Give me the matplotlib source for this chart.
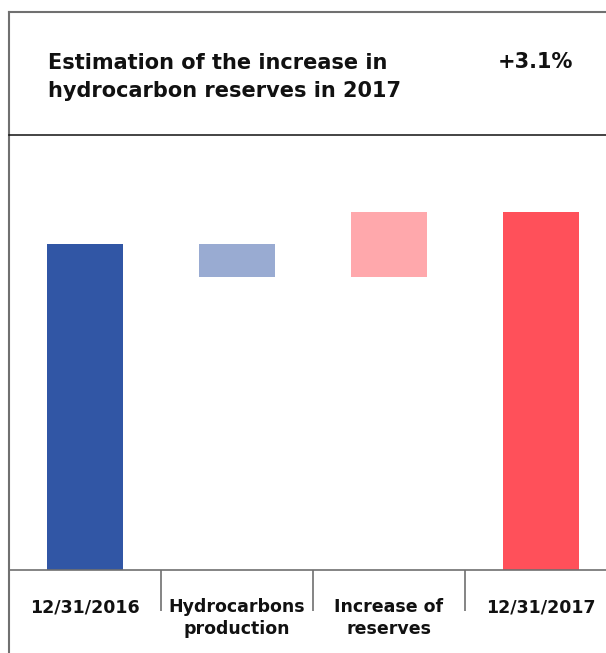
import matplotlib.pyplot as plt
import numpy as np

# Reserves bridge 2016 -> 2017 (index, start = 100)
steps = ["12/31/2016", "Hydrocarbons\nproduction", "Increase of\nreserves", "12/31/2017"]
start_value = 100
production = -10
increase = 20
end_value = start_value + production + increase
change_label = "+3.1%"
title = "Estimation of the increase in\nhydrocarbon reserves in 2017"

colors = ["#3156A5", "#99ABD2", "#FFA8AC", "#FF505A"]
line_grey = "#707070"

W, H = 606, 653
fig = plt.figure(figsize=(W / 100, H / 100), dpi=100)

# overlay in pixel units for the frame and the header
frame = fig.add_axes([0, 0, 1, 1])
frame.set_xlim(0, W)
frame.set_ylim(H, 0)
frame.axis("off")
frame.plot([9, W], [12, 12], color=line_grey, lw=1.5)
frame.plot([9, 9], [12, H], color=line_grey, lw=1.5)
frame.plot([9, W], [134.5, 134.5], color="#111111", lw=1.1)

frame.text(48, 97, title, fontsize=15, fontweight="bold", family="DejaVu Sans",
           ha="left", va="baseline", color="#111111", linespacing=1.5)
frame.text(573, 68, change_label, fontsize=15, fontweight="bold", family="DejaVu Sans",
           ha="right", va="baseline", color="#111111")

# waterfall bars
ax = fig.add_axes([9 / W, 83 / H, 608 / W, 435 / H])
ax.set_xlim(0, 4)
ax.set_ylim(0, 133.5)
ax.axis("off")

bottoms = [0, start_value + production, start_value + production, 0]
heights = [start_value, -production, increase, end_value]
x = np.arange(len(steps)) + 0.5
ax.bar(x, heights, bottom=bottoms, width=0.5, color=colors)

ax.axhline(0, xmin=0, xmax=1, color=line_grey, lw=1.2, clip_on=False)
ax.vlines([1, 2, 3], 0, -41 / 3.26, color=line_grey, lw=1.2, clip_on=False)

for xi, lab in zip(x, steps):
    ax.annotate(lab, xy=(xi, 0), xytext=(0, -28), textcoords="offset pixels",
                ha="center", va="top", fontsize=12.5, fontweight="bold",
                family="DejaVu Sans", color="#111111", linespacing=1.3,
                annotation_clip=False)

fig.savefig("out.png", dpi=100)
